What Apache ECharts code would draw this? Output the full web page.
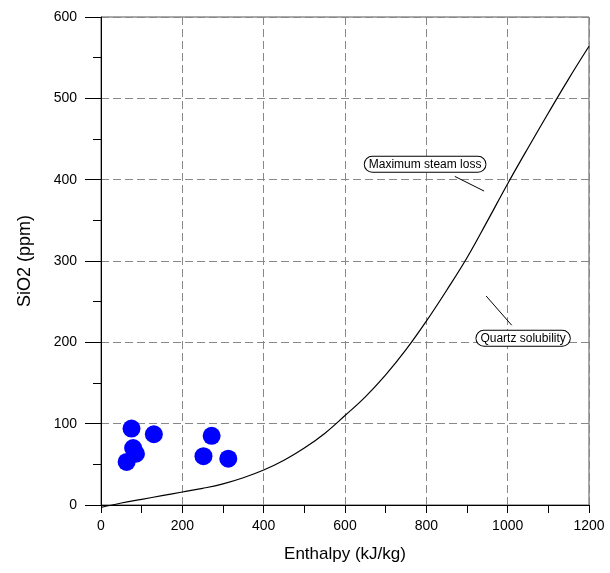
<!DOCTYPE html>
<html>
<head>
<meta charset="utf-8">
<script src="https://cdn.jsdelivr.net/npm/echarts@6/dist/echarts.min.js"></script>
<style>
  html, body { margin: 0; padding: 0; background: #fff; }
  #chart { width: 610px; height: 573px; }
</style>
</head>
<body>
<div id="chart"></div>
<script>
  // sample points (enthalpy kJ/kg, SiO2 ppm)
  var sampleEnthalpy = [75, 130, 79, 86, 63, 272, 252, 313];
  var sampleSiO2 = [94, 87, 70, 63, 53, 85, 60, 57];

  // quartz solubility / max steam loss curve
  var curveEnthalpy = [0, 50, 100, 150, 200, 250, 300, 350, 400, 450, 500, 550, 600,
    650, 700, 750, 800, 850, 900, 950, 1000, 1050, 1100, 1150, 1200];
  var curveSiO2 = [-3, 2.5, 7, 11.5, 16, 20.5, 26, 33.5, 43, 55, 70, 88, 110,
    133, 160, 191, 226, 264, 304, 349, 395, 439, 482, 524, 564];

  // annotation labels and their leader lines (data coords)
  var noteText = ['Maximum steam loss', 'Quartz solubility'];
  var notePos = [[797, 419], [1038, 205]];
  var leaderFrom = [[870, 404], [947, 257]];
  var leaderTo = [[942, 386], [1010, 221]];

  var xTicks = [0, 1200, 200];
  var yTicks = [0, 600, 100];

  var font = 'Liberation Sans, Arial, sans-serif';

  var myChart = echarts.init(document.getElementById('chart'));

  var scatterData = sampleEnthalpy.map(function (x, i) { return [x, sampleSiO2[i]]; });
  var curveData = curveEnthalpy.map(function (x, i) { return [x, curveSiO2[i]]; });

  var option = {
    animation: false,
    backgroundColor: '#fff',
    grid: {
      left: 101, right: 21, top: 17, bottom: 68,
      show: true, borderColor: '#555', borderWidth: 1
    },
    xAxis: {
      type: 'value',
      min: xTicks[0], max: xTicks[1], interval: xTicks[2],
      name: 'Enthalpy (kJ/kg)',
      nameLocation: 'middle',
      nameGap: 41,
      nameTextStyle: { fontFamily: font, fontSize: 17, color: '#000' },
      axisLine: { lineStyle: { color: '#000', width: 1 } },
      axisTick: { show: true, length: 8, lineStyle: { color: '#000' } },
      minorTick: { show: true, splitNumber: 2, length: 8, lineStyle: { color: '#000' } },
      axisLabel: {
        fontFamily: font, fontSize: 14, color: '#000', margin: 14,
        formatter: function (v) { return String(v); }
      },
      splitLine: { show: true, lineStyle: { color: '#888', type: [8, 4], width: 1 } }
    },
    yAxis: {
      type: 'value',
      min: yTicks[0], max: yTicks[1], interval: yTicks[2],
      name: 'SiO2 (ppm)',
      nameLocation: 'middle',
      nameGap: 67,
      nameTextStyle: { fontFamily: font, fontSize: 18, color: '#000' },
      axisLine: { show: true, lineStyle: { color: '#000', width: 1 } },
      axisTick: { show: true, length: 16, lineStyle: { color: '#000' } },
      minorTick: { show: true, splitNumber: 2, length: 8, lineStyle: { color: '#000' } },
      axisLabel: {
        fontFamily: font, fontSize: 14, color: '#000', margin: 24,
        formatter: function (v) { return String(v); }
      },
      splitLine: { show: true, lineStyle: { color: '#888', type: [8, 4], width: 1 } }
    },
    series: [
      {
        type: 'line',
        data: curveData,
        smooth: 0.4,
        clip: false,
        showSymbol: false,
        lineStyle: { color: '#000', width: 1.2 },
        markLine: {
          silent: true,
          symbol: ['none', 'none'],
          label: { show: false },
          lineStyle: { color: '#000', width: 1, type: 'solid' },
          data: leaderFrom.map(function (p, i) {
            return [{ coord: p }, { coord: leaderTo[i] }];
          })
        },
        markPoint: {
          silent: true,
          symbol: 'circle',
          symbolSize: 0,
          label: {
            show: true,
            position: 'inside',
            formatter: '{b}',
            fontFamily: font,
            fontSize: 12,
            color: '#000',
            backgroundColor: '#fff',
            borderColor: '#000',
            borderWidth: 1,
            borderRadius: 8,
            padding: [2, 4, 1, 4]
          },
          data: noteText.map(function (t, i) {
            return { name: t, coord: notePos[i] };
          })
        }
      },
      {
        type: 'scatter',
        data: scatterData,
        symbol: 'circle',
        symbolSize: 18,
        itemStyle: { color: '#0000ff', opacity: 1 }
      }
    ]
  };
  myChart.setOption(option);
</script>
</body>
</html>
